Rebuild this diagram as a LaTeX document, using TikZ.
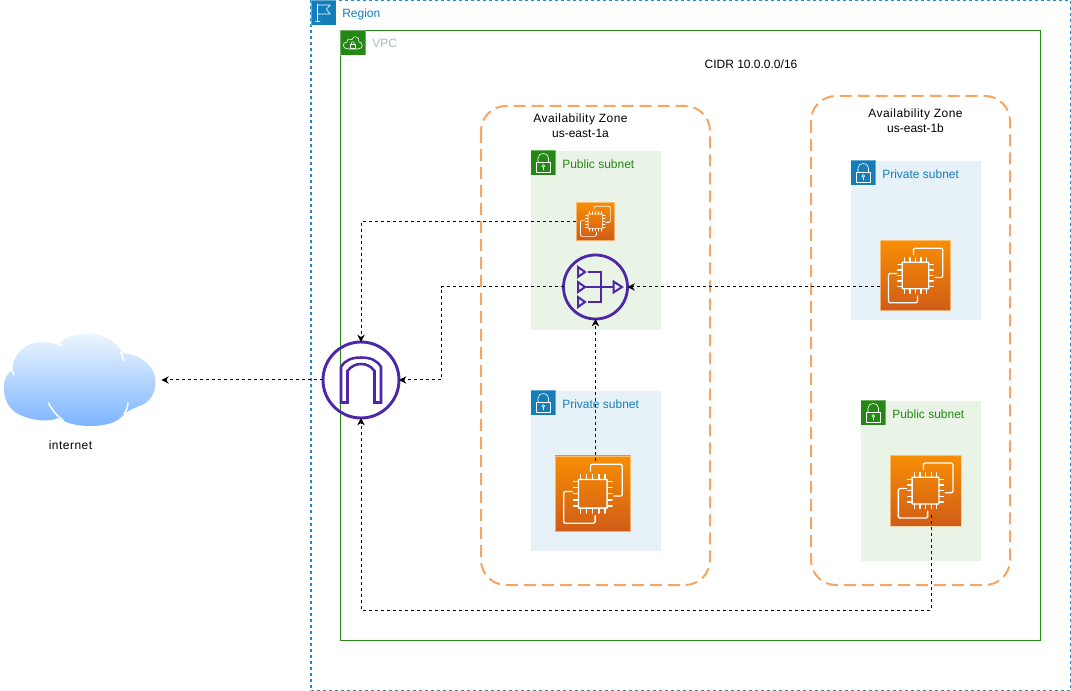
\documentclass[tikz,border=0pt]{standalone}
\usepackage{fontspec}
\setmainfont{Liberation Sans}
\newfontfamily\spaced[LetterSpace=4]{Liberation Sans}
\usetikzlibrary{arrows.meta}
\definecolor{regionblue}{HTML}{147EBA}
\definecolor{regionline}{HTML}{1C8DD0}
\definecolor{vpcgreen}{HTML}{248814}
\definecolor{vpcgrey}{HTML}{AAB7B8}
\definecolor{zoneorange}{HTML}{F5A565}
\definecolor{pubfill}{HTML}{E9F3E6}
\definecolor{privfill}{HTML}{E6F2F8}
\definecolor{gwpurple}{HTML}{4D27AA}
\definecolor{ectop}{HTML}{F78E04}
\definecolor{ecbottom}{HTML}{D05C17}
\definecolor{cloudtop}{HTML}{EDF6FF}
\definecolor{cloudbottom}{HTML}{7DB5FF}
\tikzset{
  lbl/.style={font=\fontsize{9}{11.25}\selectfont,inner sep=0pt},
  link/.style={draw=black,line width=0.75pt,dash pattern=on 2.25pt off 2.25pt,-{Stealth[length=5.5pt,width=5.5pt]}},
  zone/.style={draw=zoneorange,line width=1.5pt,dash pattern=on 9pt off 4.5pt,rounded corners=18.75pt},
  badge/.style={minimum size=18.75pt,inner sep=0pt,draw=white,draw opacity=0.35,line width=0.4pt},
  glyph/.style={draw=white,line width=0.45pt,line cap=round,line join=round},
  ecbox/.style={shading=axis,top color=ectop,bottom color=ecbottom,draw=ectop!40!white,draw opacity=0.7,line width=0.4pt,inner sep=0pt},
  gw/.style={circle,draw=gwpurple,inner sep=0pt,outer sep=0pt},
  gwline/.style={draw=gwpurple,line join=miter},
  cloudslit/.style={draw=white,line width=1.1pt},
}
% lock drawn on a subnet badge
\newcommand{\lockglyph}[1]{
  \begin{scope}[shift={(#1.center)}]
    \draw[glyph] (-6.5,-1) rectangle (7,9);
    \draw[glyph] (-5,-1) -- (-5,-5) .. controls (-5,-11) and (5.5,-11) .. (5.5,-5) -- (5.5,-1);
    \draw[glyph] (0.2,3) circle (1.4);
    \draw[glyph] (0.2,4.4) -- (0.2,7);
  \end{scope}
}
% chip with two brackets, #2 is the icon size
\newcommand{\chipglyph}[2]{
  \begin{scope}[shift={(#1.center)},x=#2*0.75pt,y=-#2*0.75pt,glyph,line width=#2*0.0135pt]
    \draw[rounded corners=0.4pt] (-0.19,-0.19) rectangle (0.19,0.19);
    \foreach \p in {-0.16,-0.08,0,0.08,0.16} {
      \draw (\p,-0.19) -- (\p,-0.255);
      \draw (\p,0.19) -- (\p,0.255);
      \draw (-0.19,\p) -- (-0.255,\p);
      \draw (0.19,\p) -- (0.255,\p);
    }
    \draw[rounded corners=1pt] (-0.03,-0.3) -- (-0.03,-0.39) -- (0.39,-0.39) -- (0.39,0.03) -- (0.28,0.03);
    \draw[rounded corners=1pt] (0.03,0.29) -- (0.03,0.39) -- (-0.385,0.39) -- (-0.385,-0.03) -- (-0.27,-0.03);
  \end{scope}
}
\begin{document}
\begin{tikzpicture}[x=0.75pt,y=-0.75pt]
  \useasboundingbox (0,0) rectangle (1071,691);

  % cloud
  \path[shading=axis,top color=cloudtop,bottom color=cloudbottom]
    (4,387) .. controls (4,379) and (7,373) .. (12.7,370)
    .. controls (12,354) and (26,342) .. (42,342.3)
    .. controls (48,342) and (54,343) .. (59,345)
    .. controls (64,337) and (74,334) .. (85,334)
    .. controls (104,333) and (118,342) .. (122,353)
    .. controls (140,354) and (156,366) .. (155.5,383)
    .. controls (155,394) and (150,401) .. (142,405)
    .. controls (134,408) and (130,410) .. (125,413)
    .. controls (118,423) and (105,426) .. (90,426)
    .. controls (76,426) and (66,423) .. (58,418)
    .. controls (48,423) and (30,420) .. (18,414)
    .. controls (8,408) and (4,399) .. (4,387) -- cycle;
  \draw[cloudslit] (48.3,402.7) .. controls (52,410) and (57,416) .. (64,421);
  \draw[cloudslit] (128,402.7) .. controls (128,407) and (126,411) .. (124,414);
  \draw[cloudslit] (123.5,361) .. controls (123.5,358) and (122.5,355) .. (120.7,352);
  \draw[cloudslit] (63,345.5) .. controls (60,344.5) and (57,343.5) .. (53,342.5);
  \draw[cloudslit] (14,375.5) .. controls (13,373) and (12.5,371) .. (11.7,369);
  \node[minimum size=1pt,inner sep=0pt] (cloud) at (160.5,380) {};
  \node[lbl,text=black,font=\fontsize{9}{11.25}\spaced] (internet) at (70.5,445) {internet};

  % region and vpc
  \draw[regionline,line width=0.9pt,dash pattern=on 2.25pt off 2.25pt] (311,0.5) rectangle (1070.5,690.5);
  \node[badge,fill=regionblue] (regionbadge) at (323.5,12.5) {};
  \begin{scope}[shift={(regionbadge.center)}]
    \draw[glyph] (-5.8,-8.5) -- (-5.8,9);
    \draw[glyph] (-8,9) -- (-3.5,9);
    \draw[glyph] (-5.8,-7.5) -- (6.8,-7.5) -- (2.8,-3.2) -- (6.8,1.5) -- (-5.8,1.5);
  \end{scope}
  \node[lbl,text=regionblue,anchor=west] (regionlabel) at (342,14) {Region};

  \draw[vpcgreen,line width=0.75pt] (340.5,30.5) rectangle (1040.5,640.5);
  \node[badge,fill=vpcgreen] (vpcbadge) at (353,43) {};
  \begin{scope}[shift={(vpcbadge.center)}]
    \draw[glyph] (-5,6) .. controls (-11,6) and (-11,-1) .. (-6,-1)
      .. controls (-6,-4) and (-3,-5) .. (-1,-3.5)
      .. controls (0,-8) and (7,-7) .. (6,-1)
      .. controls (10,-1) and (11,6) .. (5,6) -- cycle;
    \draw[glyph,line width=0.4pt] (-3,1) rectangle (2.5,5);
    \draw[glyph,line width=0.4pt] (-1.8,1) .. controls (-1.8,-2) and (1.3,-2) .. (1.3,1);
  \end{scope}
  \node[lbl,text=vpcgrey,anchor=west] (vpclabel) at (372,43) {VPC};
  \node[lbl,text=black] (cidr) at (751,64.5) {CIDR 10.0.0.0/16};

  % zones
  \draw[zone] (481,106) rectangle (710,585);
  \draw[zone] (811,96) rectangle (1010,585);
  \node[lbl,text=black,align=center] (zonea) at (580.5,126) {{\spaced Availability Zone}\\us-east-1a};
  \node[lbl,text=black,align=center] (zoneb) at (915.5,120.5) {{\spaced Availability Zone}\\us-east-1b};

  % subnets
  \fill[pubfill] (531,151) rectangle (660.5,330.5);
  \fill[privfill] (531,391) rectangle (660.5,550.5);
  \fill[privfill] (851,161) rectangle (980.5,320.5);
  \fill[pubfill] (861,401) rectangle (980.5,560.5);

  \node[badge,fill=vpcgreen] (pubabadge) at (543,163) {};
  \lockglyph{pubabadge}
  \node[lbl,text=vpcgreen,anchor=west] (pubalabel) at (562,164) {Public subnet};
  \node[badge,fill=regionblue] (privabadge) at (543,403) {};
  \lockglyph{privabadge}
  \node[lbl,text=regionblue,anchor=west] (privalabel) at (562,404) {Private subnet};
  \node[badge,fill=regionblue] (privbbadge) at (863,173) {};
  \lockglyph{privbbadge}
  \node[lbl,text=regionblue,anchor=west] (privblabel) at (882,174) {Private subnet};
  \node[badge,fill=vpcgreen] (pubbbadge) at (873,413) {};
  \lockglyph{pubbbadge}
  \node[lbl,text=vpcgreen,anchor=west] (pubblabel) at (892,414) {Public subnet};

  % instances
  \node[ecbox,minimum size=28.9pt] (ecsmall) at (595.3,221.3) {};
  \chipglyph{ecsmall}{38.6}
  \node[ecbox,minimum size=56.7pt] (ecpriva) at (592.8,493.8) {};
  \chipglyph{ecpriva}{75.6}
  \node[ecbox,minimum size=52.5pt] (ecprivb) at (915.5,275.5) {};
  \chipglyph{ecprivb}{70}
  \node[ecbox,minimum size=52.9pt] (ecpubb) at (925.5,490.6) {};
  \chipglyph{ecpubb}{70.5}

  % nat gateway
  \node[gw,line width=2.1pt,minimum size=48pt] (natgw) at (595.5,287) {};
  \begin{scope}[shift={(natgw.center)},gwline,line width=1.5pt]
    \foreach \t in {-15,0,15} {
      \draw (-17.5,\t-5) -- (-17.5,\t+5) -- (-10.5,\t) -- cycle;
    }
    \draw (-8,-15) -- (5,-15) -- (5,15) -- (-8,15);
    \draw (-10,0) -- (18,0);
    \draw (18,-5.5) -- (18,5.5) -- (26.5,0) -- cycle;
  \end{scope}

  % internet gateway
  \node[gw,line width=2.2pt,minimum size=57pt] (igw) at (361,380) {};
  \begin{scope}[shift={(igw.center)},gwline,line width=1.9pt]
    \draw (-20,22.5) -- (-20,-13) .. controls (-16,-20) and (-9,-22.5) .. (0,-22.5)
      .. controls (9,-22.5) and (16,-20) .. (20,-13) -- (20,22.5)
      -- (13.5,22.5) -- (13.5,-9) .. controls (10,-14) and (5,-16) .. (0,-16)
      .. controls (-5,-16) and (-10,-14) .. (-13.5,-9) -- (-13.5,22.5) -- cycle;
  \end{scope}

  % links
  \coordinate (natbend) at (441,287);
  \coordinate (privaout) at (595.5,461);
  \coordinate (pubbout) at (931,515);
  \coordinate (lowturn) at (361,610);
  \draw[link] (igw.west) -- (cloud.east);
  \draw[link] (natgw.west) -- (natbend) |- (igw.east);
  \draw[link] (ecsmall.west) -| (igw.north);
  \draw[link] (ecprivb.west |- natgw.east) -- (natgw.east);
  \draw[link] (privaout) -- (natgw.south);
  \draw[link] (pubbout) |- (lowturn) -- (igw.south);
\end{tikzpicture}
\end{document}
